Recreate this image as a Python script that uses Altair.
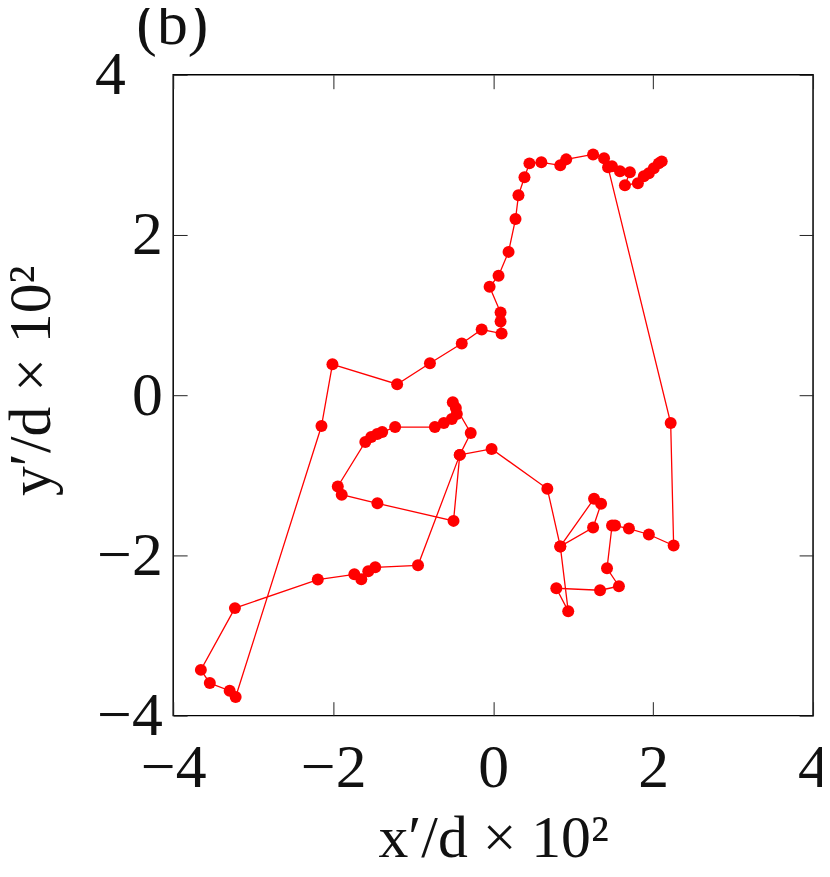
import altair as alt
import pandas as pd

# trajectory points (x'/d*1e2, y'/d*1e2), in path order
xs = [1.437, 2.220, 2.257, 1.947, 1.698, 1.524, 1.487, 1.424, 1.573, 1.337,
      0.790, 0.939, 0.840, 1.250, 1.350, 1.262, 0.840, 0.678, -0.019, -0.417,
      -0.280, -0.504, -0.466, -0.454, -0.516, -0.616, -0.728, -1.225, -1.387, -1.449,
      -1.524, -1.598, -1.942, -1.893, -1.447, -0.495, -0.417, -0.939, -1.474, -1.561,
      -1.648, -1.735, -2.192, -3.228, -3.654, -3.542, -3.294, -3.219, -2.146, -2.009,
      -1.200, -0.790, -0.392, -0.143, 0.106, 0.093, 0.093, -0.044, 0.068, 0.193,
      0.280, 0.317, 0.392, 0.454, 0.603, 0.840, 0.914, 1.250, 1.387, 1.486,
      1.586, 1.710, 1.648, 1.810, 1.884, 1.947, 2.009, 2.071, 2.108]
ys = [2.845, -0.348, -1.876, -1.739, -1.665, -1.627, -1.627, -2.161, -2.385, -2.435,
      -2.410, -2.696, -1.888, -1.652, -1.354, -1.292, -1.888, -1.168, -0.671, -0.745,
      -0.472, -0.087, -0.161, -0.236, -0.298, -0.348, -0.398, -0.398, -0.460, -0.484,
      -0.522, -0.584, -1.139, -1.242, -1.350, -1.569, -0.745, -2.124, -2.149, -2.199,
      -2.298, -2.236, -2.302, -2.658, -3.429, -3.594, -3.689, -3.768, -0.385, 0.385,
      0.137, 0.398, 0.646, 0.820, 0.770, 0.919, 1.031, 1.354, 1.491, 1.789,
      2.199, 2.497, 2.720, 2.894, 2.907, 2.870, 2.944, 3.006, 2.957, 2.857,
      2.795, 2.783, 2.621, 2.646, 2.733, 2.770, 2.832, 2.894, 2.919]
tick_values = [-4, -2, 0, 2, 4]
panel_label = "(b)"
x_title = "x′/d × 10²"
y_title = "y′/d × 10²"

df = pd.DataFrame({"i": list(range(len(xs))), "x": xs, "y": ys})

FONT = "Liberation Serif"
RED = "#ff0000"
TICK = 14

xscale = alt.Scale(domain=[-4, 4], nice=False, zero=False)
yscale = alt.Scale(domain=[-4, 4], nice=False, zero=False)

x_bottom = alt.Axis(values=tick_values, orient="bottom", domain=False, grid=False,
                    offset=-TICK, tickSize=TICK, tickColor="#222", tickWidth=1,
                    labelFont=FONT, labelFontSize=62, labelColor="#111",
                    labelPadding=22, labelFlush=False,
                    title=x_title, titleFont=FONT, titleFontSize=60,
                    titleFontWeight="normal", titleColor="#111", titlePadding=12)
y_left = alt.Axis(values=tick_values, orient="left", domain=False, grid=False,
                  offset=-TICK, tickSize=TICK, tickColor="#222", tickWidth=1,
                  labelFont=FONT, labelFontSize=62, labelColor="#111",
                  labelPadding={"condition": {"test": "datum.value == 4", "value": 48},
                                "value": 11},
                  labelFlush=False,
                  title=y_title, titleFont=FONT, titleFontSize=60,
                  titleFontWeight="normal", titleColor="#111", titlePadding=32,
                  titleY=307)
x_top = alt.Axis(values=tick_values, orient="top", domain=False, grid=False,
                 offset=-TICK, tickSize=TICK, tickColor="#222", tickWidth=1,
                 labels=False, title=None)
y_right = alt.Axis(values=tick_values, orient="right", domain=False, grid=False,
                   offset=-TICK, tickSize=TICK, tickColor="#222", tickWidth=1,
                   labels=False, title=None)

line = alt.Chart(df).mark_line(color=RED, strokeWidth=1.3).encode(
    x=alt.X("x:Q", scale=xscale, axis=x_bottom),
    y=alt.Y("y:Q", scale=yscale, axis=y_left),
    order="i:Q",
)
points = alt.Chart(df).mark_circle(color=RED, size=145, opacity=1).encode(
    x=alt.X("x:Q", scale=xscale, axis=x_top),
    y=alt.Y("y:Q", scale=yscale, axis=y_right),
)
label = alt.Chart(pd.DataFrame({"t": [panel_label]})).mark_text(
    font=FONT, fontSize=62, color="#111", align="left", baseline="alphabetic"
).encode(text="t:N", x=alt.value(-37), y=alt.value(-31))

chart = alt.layer(line, points, label).resolve_axis(
    x="independent", y="independent"
).properties(
    width=643, height=644,
    autosize=alt.AutoSizeParams(type="none"),
    padding={"left": 166, "top": 65, "right": 9, "bottom": 146},
).configure_view(stroke="black", strokeWidth=1.5)

chart.save("out.html", embed_options={"renderer": "svg", "actions": False})
